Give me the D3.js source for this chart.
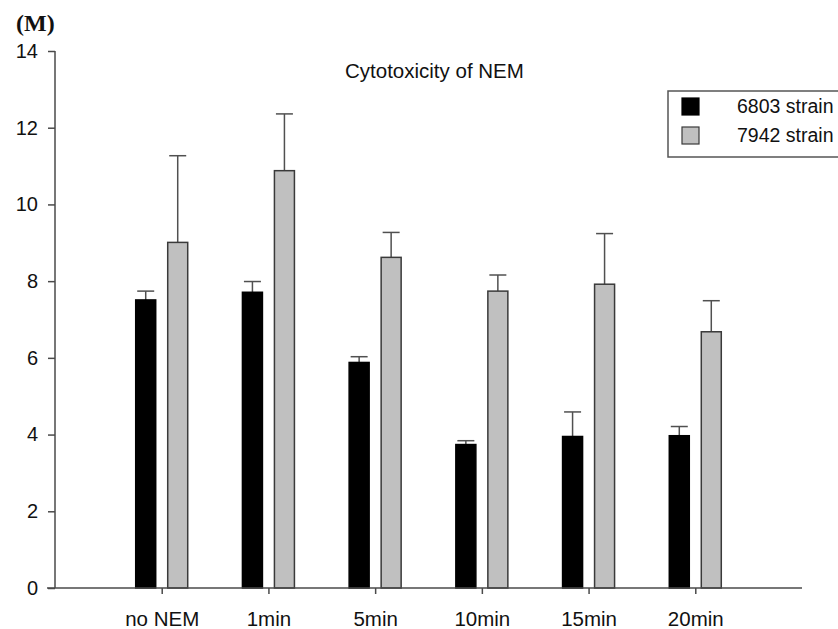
<!DOCTYPE html>
<html>
<head>
<meta charset="utf-8">
<script src="https://cdn.jsdelivr.net/npm/d3@7"></script>
<style>
  body { margin: 0; background: #fff; }
  text { font-family: "Liberation Sans", Arial, sans-serif; fill: #111; }
</style>
</head>
<body>
<svg id="chart" width="838" height="629"></svg>
<script>
'use strict';

// categories (x axis)
var categories = ['no NEM', '1min', '5min', '10min', '15min', '20min'];
// series values
var strain6803 = [7.51, 7.71, 5.88, 3.74, 3.95, 3.97];
var strain6803Err = [0.23, 0.28, 0.15, 0.10, 0.64, 0.24];
var strain7942 = [9.01, 10.88, 8.62, 7.74, 7.92, 6.68];
var strain7942Err = [2.26, 1.48, 0.65, 0.42, 1.32, 0.81];
var seriesNames = ['6803 strain', '7942 strain'];
var yTicks = [0, 2, 4, 6, 8, 10, 12, 14];

var svg = d3.select('#chart');
var axisColor = '#4a4a4a';

// x: 7 equal slots between the axis ends, categories sit at 1..6
var x = d3.scaleLinear().domain([0, categories.length + 1]).range([55, 802]);
var y = d3.scaleLinear().domain([0, 14]).range([588, 51]);

var barW = 20, offset = 16;

var series = [
  {name: seriesNames[0], vals: strain6803, err: strain6803Err, fill: '#000', stroke: '#000', dx: -offset},
  {name: seriesNames[1], vals: strain7942, err: strain7942Err, fill: '#c0c0c0', stroke: '#3a3a3a', dx: offset}
];

// bars + error bars
series.forEach(function(s) {
  var g = svg.append('g');
  var rows = s.vals.map(function(v, i) { return {i: i, v: v, e: s.err[i]}; });

  g.selectAll('line.err').data(rows).enter().append('line')
    .attr('x1', function(d) { return x(d.i + 1) + s.dx; })
    .attr('x2', function(d) { return x(d.i + 1) + s.dx; })
    .attr('y1', function(d) { return y(d.v); })
    .attr('y2', function(d) { return y(d.v + d.e); })
    .attr('stroke', '#505050').attr('stroke-width', 1.5);

  g.selectAll('line.cap').data(rows).enter().append('line')
    .attr('x1', function(d) { return x(d.i + 1) + s.dx - 8.5; })
    .attr('x2', function(d) { return x(d.i + 1) + s.dx + 8.5; })
    .attr('y1', function(d) { return y(d.v + d.e); })
    .attr('y2', function(d) { return y(d.v + d.e); })
    .attr('stroke', '#505050').attr('stroke-width', 1.5);

  g.selectAll('rect').data(rows).enter().append('rect')
    .attr('x', function(d) { return x(d.i + 1) + s.dx - barW / 2; })
    .attr('y', function(d) { return y(d.v); })
    .attr('width', barW)
    .attr('height', function(d) { return y(0) - y(d.v); })
    .attr('fill', s.fill)
    .attr('stroke', s.stroke).attr('stroke-width', 1.5);
});

// y axis
var yAxis = svg.append('g')
  .attr('transform', 'translate(55,0)')
  .call(d3.axisLeft(y).tickValues(yTicks).tickSize(7).tickPadding(10).tickFormat(d3.format('d')));
yAxis.select('.domain').attr('d', 'M0,' + y(14) + 'V' + y(0)).attr('stroke', axisColor).attr('stroke-width', 1.5);
yAxis.selectAll('.tick line').attr('stroke', axisColor).attr('stroke-width', 1.5);
yAxis.selectAll('.tick text')
  .attr('font-family', '"Liberation Sans", Arial, sans-serif')
  .attr('font-size', 20).attr('fill', '#111');

// x axis
var xAxis = svg.append('g')
  .attr('transform', 'translate(0,' + y(0) + ')')
  .call(d3.axisBottom(x).tickValues(d3.range(1, categories.length + 1)).tickSize(6).tickPadding(17)
    .tickFormat(function(d) { return categories[d - 1]; }));
xAxis.select('.domain').attr('d', 'M47,0H802').attr('stroke', axisColor).attr('stroke-width', 1.5);
xAxis.selectAll('.tick line').attr('stroke', axisColor).attr('stroke-width', 1.5);
xAxis.selectAll('.tick text')
  .attr('font-family', '"Liberation Sans", Arial, sans-serif')
  .attr('font-size', 20.5).attr('fill', '#111');

// title
svg.append('text')
  .attr('x', 345).attr('y', 78)
  .attr('font-size', 20.5)
  .text('Cytotoxicity of NEM');

// panel label
svg.append('text')
  .attr('x', 16).attr('y', 31)
  .style('font-family', '"Liberation Serif", "Times New Roman", serif')
  .attr('font-size', 24).attr('font-weight', 'bold')
  .text('(M)');

// legend
var legend = svg.append('g').attr('transform', 'translate(668,91)');
legend.append('rect')
  .attr('x', 0).attr('y', 0).attr('width', 185).attr('height', 66)
  .attr('fill', 'none').attr('stroke', '#555').attr('stroke-width', 1.5);
var items = legend.selectAll('g.item').data(series).enter().append('g')
  .attr('transform', function(d, i) { return 'translate(0,' + (i * 29) + ')'; });
items.append('rect')
  .attr('x', 14).attr('y', 7).attr('width', 17).attr('height', 17)
  .attr('fill', function(d) { return d.fill; })
  .attr('stroke', function(d) { return d.stroke; }).attr('stroke-width', 1.2);
items.append('text')
  .attr('x', 69).attr('y', 22)
  .attr('font-size', 19.5)
  .text(function(d) { return d.name; });
</script>
</body>
</html>
